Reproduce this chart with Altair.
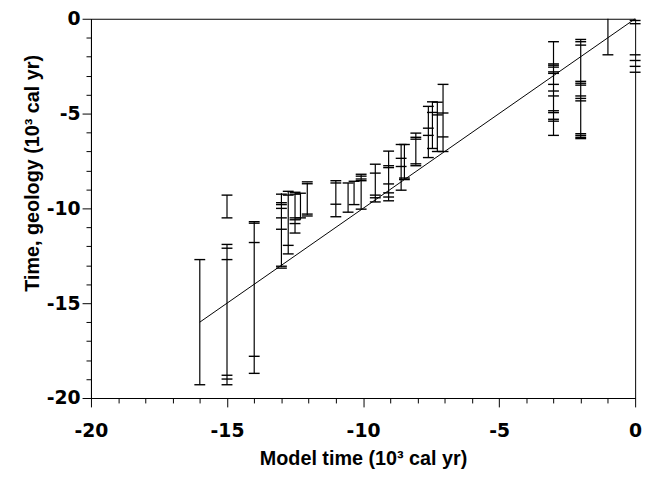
import altair as alt
import pandas as pd

# vertical error bars: model time x, geology time top / bottom (10^3 cal yr)
bar_x = [-16, -15, -15, -14, -13, -12.75, -12.5, -12.3, -12.05, -11.0, -10.55, -10.33,
         -10.07, -9.55, -9.06, -8.6, -8.48, -8.06, -7.6, -7.45, -7.27, -7.06, -3.0, -2.0, -1.0]
bar_top = [-12.7, -9.3, -11.9, -10.7, -9.2, -9.1, -9.2, -9.2, -8.65, -8.54, -8.66, -8.57,
           -8.2, -7.67, -6.98, -6.63, -6.63, -6.03, -4.62, -4.38, -4.4, -3.46, -1.21, -1.09, 0.0]
bar_bot = [-19.3, -10.5, -19.3, -18.7, -13.1, -12.4, -11.3, -10.6, -10.35, -10.44, -10.2, -9.8,
           -10.04, -9.66, -9.6, -9.04, -8.48, -7.7, -7.32, -6.84, -7.0, -7.0, -6.15, -6.32, -1.9]

# horizontal caps on the bars
cap_x = ([-16] * 2 + [-15] * 8 + [-14] * 5 + [-13] * 8 + [-12.75] * 4 + [-12.5] * 6 +
         [-12.3] * 2 + [-12.05] * 4 + [-11.0] * 4 + [-10.55] * 2 + [-10.33] * 2 +
         [-10.07] * 5 + [-9.55] * 5 + [-9.06] * 7 + [-8.6] * 4 + [-8.48] * 3 + [-8.06] * 5 +
         [-7.6] * 4 + [-7.45] * 3 + [-7.27] * 3 + [-7.06] * 4 + [-3.0] * 14 + [-2.0] * 13 +
         [-1.0] * 1 + [0.0] * 6)
cap_y = ([-12.7, -19.3] +
         [-9.3, -10.5, -11.9, -12.1, -12.7, -18.8, -19.0, -19.3] +
         [-10.7, -10.78, -11.8, -17.8, -18.7] +
         [-9.25, -9.7, -9.8, -10.0, -10.5, -11.1, -13.05, -13.15] +
         [-9.1, -9.3, -11.95, -12.4] +
         [-9.15, -9.25, -10.5, -10.6, -10.8, -11.3] +
         [-9.2, -10.5] +
         [-8.6, -8.7, -10.3, -10.4] +
         [-8.54, -8.66, -9.78, -10.44] +
         [-8.66, -10.2] +
         [-8.57, -9.8] +
         [-8.2, -8.3, -8.45, -8.54, -10.04] +
         [-7.67, -8.14, -9.3, -9.44, -9.66] +
         [-6.98, -7.75, -7.85, -8.71, -9.18, -9.4, -9.6] +
         [-6.63, -7.36, -7.79, -9.04] +
         [-6.63, -8.4, -8.48] +
         [-6.03, -6.25, -6.35, -7.65, -7.75] +
         [-4.62, -5.77, -6.15, -7.32] +
         [-4.38, -4.94, -6.84] +
         [-4.4, -5.07, -7.0] +
         [-3.46, -4.97, -6.23, -7.0] +
         [-1.21, -2.38, -2.45, -2.55, -2.8, -2.88, -3.46, -3.81, -4.07, -4.85, -4.95, -5.3, -5.4, -6.15] +
         [-1.09, -1.21, -1.39, -3.3, -3.4, -3.5, -4.07, -4.2, -4.33, -6.06, -6.15, -6.25, -6.32] +
         [-1.9] +
         [-0.09, -0.26, -1.9, -2.2, -2.51, -2.82])

# 1:1 line
line_x = [-16, 0]
line_y = [-16, 0]

tick_values = list(range(-20, 1))

bars = pd.DataFrame({"x": bar_x, "top": bar_top, "bot": bar_bot})
caps = pd.DataFrame({"x": cap_x, "y": cap_y})
line = pd.DataFrame({"x": line_x, "y": line_y})

LABEL_FONT = "DejaVu Sans"
TITLE_FONT = "Liberation Sans"
label_expr = "datum.value % 5 == 0 ? (datum.value < 0 ? '-' + abs(datum.value) : '' + datum.value) : ''"
tick_size = {"condition": {"test": "datum.value % 5 == 0", "value": 9}, "value": 5}

xscale = alt.Scale(domain=[-20, 0], nice=False, zero=False)
yscale = alt.Scale(domain=[-20, 0], nice=False, zero=False)

xaxis = alt.Axis(values=tick_values, labelExpr=label_expr, tickSize=tick_size,
                 title="Model time (10³ cal yr)", grid=False, labelFont=LABEL_FONT,
                 labelFontSize=19, labelFontWeight="bold", labelColor="black",
                 titleFont=TITLE_FONT, titleFontSize=20, titleFontWeight="bold", titleColor="black",
                 titleBaseline="alphabetic", titleY=67,
                 domainColor="black", tickColor="black", labelPadding=15,
                 labelFlush=False, labelOverlap=False)
yaxis = alt.Axis(values=tick_values, labelExpr=label_expr, tickSize=tick_size,
                 title="Time, geology (10³ cal yr)", grid=False, labelFont=LABEL_FONT,
                 labelFontSize=19, labelFontWeight="bold", labelColor="black",
                 titleFont=TITLE_FONT, titleFontSize=20, titleFontWeight="bold", titleColor="black",
                 titleBaseline="alphabetic", titleAlign="center", titleAngle=270,
                 titleX=-53, titleY=156,
                 domainColor="black", tickColor="black", labelPadding=2,
                 labelFlush=False, labelOverlap=False)

rules = alt.Chart(bars).mark_rule(color="black", strokeWidth=1.2).encode(
    x=alt.X("x:Q", scale=xscale, axis=xaxis),
    y=alt.Y("top:Q", scale=yscale, axis=yaxis),
    y2="bot:Q",
)
ticks = alt.Chart(caps).mark_tick(orient="horizontal", color="black", size=11,
                                   thickness=1.4, opacity=1).encode(
    x=alt.X("x:Q", scale=xscale, axis=xaxis),
    y=alt.Y("y:Q", scale=yscale, axis=yaxis),
)
fit = alt.Chart(line).mark_line(color="black", strokeWidth=1).encode(
    x=alt.X("x:Q", scale=xscale, axis=xaxis),
    y=alt.Y("y:Q", scale=yscale, axis=yaxis),
)

chart = alt.layer(rules, ticks, fit).properties(
    width=551, height=384,
    autosize=alt.AutoSizeParams(type="none"),
    padding={"left": 84, "top": 8, "right": 11, "bottom": 71},
).configure_view(stroke="black", strokeWidth=1)

chart.save("out.html", embed_options={"renderer": "svg", "actions": False})
